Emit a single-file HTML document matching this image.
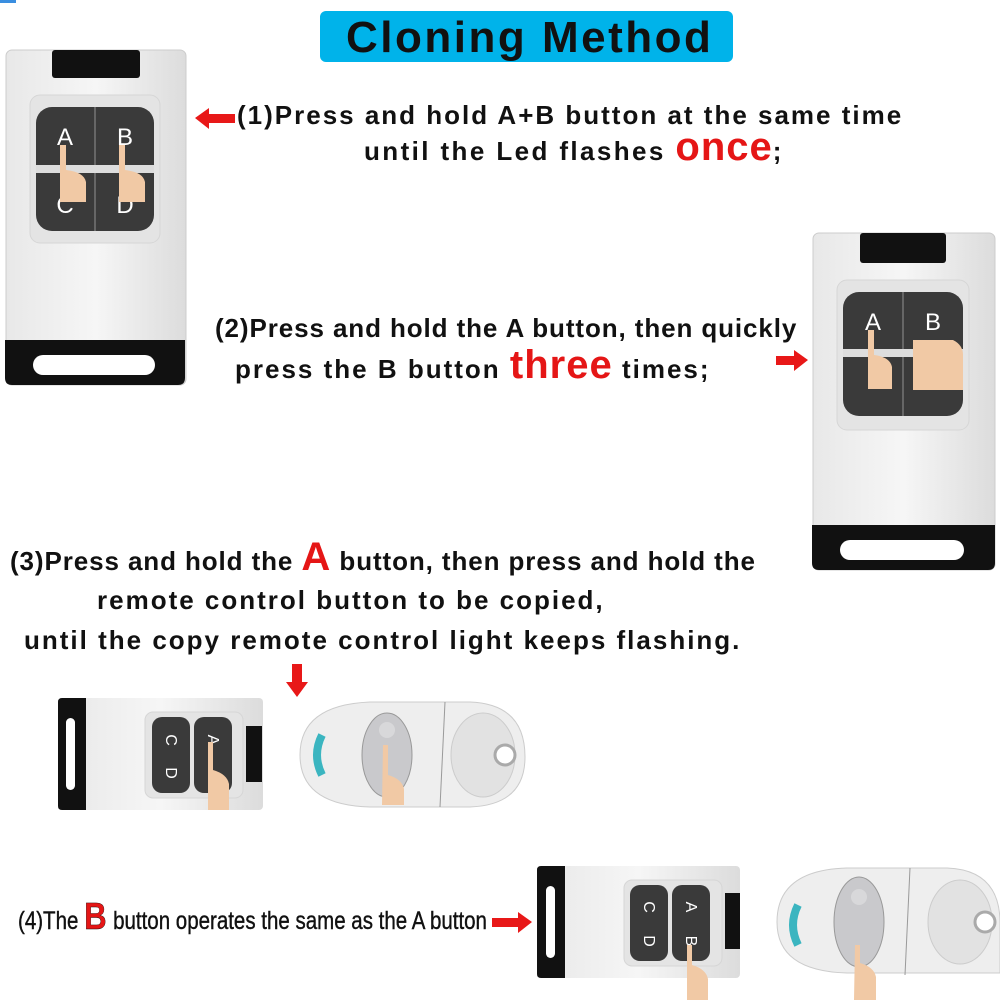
<!DOCTYPE html>
<html><head><meta charset="utf-8"><style>
body{margin:0;width:1000px;height:1000px;background:#fff;position:relative;overflow:hidden;font-family:"Liberation Sans",Arial,sans-serif;}
.t{position:absolute;font-weight:bold;font-size:26px;letter-spacing:2px;color:#111;white-space:nowrap;line-height:1;}
.r{color:#e51616;letter-spacing:1px;}
svg{position:absolute;left:0;top:0}
</style></head><body>
<svg width="1000" height="1000" viewBox="0 0 1000 1000">
<defs>
<linearGradient id="g" x1="0" x2="1"><stop offset="0" stop-color="#e8e8e8"/><stop offset=".5" stop-color="#f6f6f6"/><stop offset="1" stop-color="#dcdcdc"/></linearGradient>
</defs>
<rect x="0" y="0" width="16" height="3" fill="#3a8ee0"/>
<rect x="320" y="11" width="413" height="51" rx="6" fill="#00b3ea"/>
<g>
<rect x="6" y="50" width="180" height="335" rx="6" fill="url(#g)" stroke="#ccc"/>
<rect x="52" y="50" width="88" height="28" rx="3" fill="#111"/>
<rect x="30" y="95" width="130" height="148" rx="10" fill="#e4e4e4" stroke="#d6d6d6"/>
<rect x="36" y="107" width="118" height="124" rx="16" fill="#3a3a3a"/>
<line x1="95" y1="107" x2="95" y2="231" stroke="#666" stroke-width="2"/>
<line x1="36" y1="169" x2="154" y2="169" stroke="#ddd" stroke-width="8"/>
<text x="65" y="145" font-size="24" fill="#fff" text-anchor="middle" font-family="Liberation Sans">A</text>
<text x="125" y="145" font-size="24" fill="#fff" text-anchor="middle" font-family="Liberation Sans">B</text>
<text x="65" y="213" font-size="24" fill="#fff" text-anchor="middle" font-family="Liberation Sans">C</text>
<text x="125" y="213" font-size="24" fill="#fff" text-anchor="middle" font-family="Liberation Sans">D</text>
<path d="M60 145 h6 v25 q18 2 20 12 v20 h-26 z" fill="#f1c9a5"/>
<path d="M119 145 h6 v25 q18 2 20 12 v20 h-26 z" fill="#f1c9a5"/>
<path d="M5 340 h180 v38 q0 7 -7 7 h-166 q-7 0 -7 -7z" fill="#111"/>
<rect x="33" y="355" width="122" height="20" rx="10" fill="#fff"/>
</g>
<g>
<rect x="813" y="233" width="182" height="337" rx="6" fill="url(#g)" stroke="#ccc"/>
<rect x="860" y="233" width="86" height="30" rx="3" fill="#111"/>
<rect x="837" y="280" width="132" height="150" rx="10" fill="#e4e4e4" stroke="#d6d6d6"/>
<rect x="843" y="292" width="120" height="124" rx="16" fill="#3a3a3a"/>
<line x1="903" y1="292" x2="903" y2="416" stroke="#666" stroke-width="2"/>
<line x1="843" y1="353" x2="963" y2="353" stroke="#ddd" stroke-width="8"/>
<text x="873" y="330" font-size="24" fill="#fff" text-anchor="middle">A</text>
<text x="933" y="330" font-size="24" fill="#fff" text-anchor="middle">B</text>
<path d="M868 330 h6 v25 q16 2 18 12 v22 h-24 z" fill="#f1c9a5"/>
<path d="M913 340 h40 q10 5 10 15 v35 h-50 z" fill="#f1c9a5"/>
<path d="M812 525 h183 v38 q0 7 -7 7 h-169 q-7 0 -7 -7z" fill="#111"/>
<rect x="840" y="540" width="124" height="20" rx="10" fill="#fff"/>
</g>
<g>
<rect x="58" y="698" width="205" height="112" rx="4" fill="url(#g)"/>
<path d="M58 702 q0 -4 4 -4 h24 v112 h-24 q-4 0 -4 -4z" fill="#111"/>
<rect x="66" y="718" width="9" height="72" rx="4.5" fill="#fff"/>
<rect x="145" y="712" width="98" height="86" rx="8" fill="#e4e4e4" stroke="#d6d6d6"/>
<rect x="152" y="717" width="38" height="76" rx="10" fill="#3a3a3a"/>
<rect x="194" y="717" width="38" height="76" rx="10" fill="#3a3a3a"/>
<text x="171" y="745" font-size="16" fill="#fff" text-anchor="middle" transform="rotate(90 171 740)">C</text>
<text x="213" y="745" font-size="16" fill="#fff" text-anchor="middle" transform="rotate(90 213 740)">A</text>
<text x="171" y="778" font-size="16" fill="#fff" text-anchor="middle" transform="rotate(90 171 773)">D</text>
<rect x="246" y="726" width="16" height="56" fill="#111"/>
<path d="M208 742 h5 v28 q14 4 16 14 v26 h-21 z" fill="#f1c9a5"/>
</g>
<g>
<path d="M300 755 q0 -50 70 -53 h100 q55 2 55 55 q0 48 -55 50 h-100 q-70 -2 -70 -52z" fill="#eee" stroke="#ccc"/>
<line x1="445" y1="702" x2="440" y2="807" stroke="#999"/>
<ellipse cx="483" cy="755" rx="32" ry="42" fill="#e2e2e2" stroke="#ccc"/>
<circle cx="505" cy="755" r="10" fill="#fff" stroke="#aaa" stroke-width="3"/>
<path d="M322 735 q-10 20 0 40" stroke="#3bb5c0" stroke-width="8" fill="none"/>
<ellipse cx="387" cy="755" rx="25" ry="42" fill="#c9c9cc" stroke="#999"/>
<circle cx="387" cy="730" r="8" fill="#d8d8da"/>
<path d="M383 745 h5 v30 q14 4 16 14 v16 h-22 z" fill="#f1c9a5"/>
</g>
<g>
<rect x="537" y="866" width="203" height="112" rx="4" fill="url(#g)"/>
<path d="M537 870 q0 -4 4 -4 h24 v112 h-24 q-4 0 -4 -4z" fill="#111"/>
<rect x="546" y="886" width="9" height="72" rx="4.5" fill="#fff"/>
<rect x="624" y="880" width="98" height="86" rx="8" fill="#e4e4e4" stroke="#d6d6d6"/>
<rect x="630" y="885" width="38" height="76" rx="10" fill="#3a3a3a"/>
<rect x="672" y="885" width="38" height="76" rx="10" fill="#3a3a3a"/>
<text x="649" y="912" font-size="16" fill="#fff" text-anchor="middle" transform="rotate(90 649 907)">C</text>
<text x="691" y="912" font-size="16" fill="#fff" text-anchor="middle" transform="rotate(90 691 907)">A</text>
<text x="649" y="946" font-size="16" fill="#fff" text-anchor="middle" transform="rotate(90 649 941)">D</text>
<text x="691" y="946" font-size="16" fill="#fff" text-anchor="middle" transform="rotate(90 691 941)">B</text>
<rect x="725" y="893" width="15" height="56" fill="#111"/>
<path d="M687 945 h5 v20 q14 4 16 14 v21 h-21 z" fill="#f1c9a5"/>
</g>
<g>
<path d="M777 922 q0 -52 70 -54 h100 q53 2 53 55 v50 h-153 q-70 -2 -70 -51z" fill="#eee" stroke="#ccc"/>
<line x1="910" y1="868" x2="905" y2="975" stroke="#999"/>
<ellipse cx="960" cy="922" rx="32" ry="42" fill="#e2e2e2" stroke="#ccc"/>
<circle cx="985" cy="922" r="10" fill="#fff" stroke="#aaa" stroke-width="3"/>
<path d="M798 905 q-10 20 0 40" stroke="#3bb5c0" stroke-width="8" fill="none"/>
<ellipse cx="859" cy="922" rx="25" ry="45" fill="#c9c9cc" stroke="#999"/>
<circle cx="859" cy="897" r="8" fill="#d8d8da"/>
<path d="M855 945 h5 v18 q14 4 16 14 v23 h-22 z" fill="#f1c9a5"/>
</g>
<path d="M195 118 l14 -10 v6 h26 v9 h-26 v6z" fill="#e81818"/>
<path d="M808 360 l-14 -10 v6 h-18 v9 h18 v6z" fill="#e81818"/>
<path d="M297 697 l-11 -15 h6 v-18 h10 v18 h6z" fill="#e81818"/>
<path d="M532 922 l-14 -10 v6 h-26 v9 h26 v6z" fill="#e81818"/>
</svg>
<div class="t" style="left:346px;top:16px;font-size:44px;letter-spacing:2.5px;">Cloning Method</div>
<div class="t" style="left:237px;top:102px;">(1)Press and hold A+B button at the same time</div>
<div class="t" style="left:364px;top:127px;letter-spacing:2.4px;">until the Led flashes <span class="r" style="font-size:40px;">once</span>;</div>
<div class="t" style="left:215px;top:315px;letter-spacing:0.9px;">(2)Press and hold the A button, then quickly</div>
<div class="t" style="left:235px;top:345px;">press the B button <span class="r" style="font-size:40px;">three</span> times;</div>
<div class="t" style="left:10px;top:537px;letter-spacing:0.9px;">(3)Press and hold the <span class="r" style="font-size:40px;">A</span> button, then press and hold the</div>
<div class="t" style="left:97px;top:587px;">remote control button to be copied,</div>
<div class="t" style="left:24px;top:627px;">until the copy remote control light keeps flashing.</div>
<div class="t" style="left:18px;top:898px;font-weight:normal;font-size:25px;letter-spacing:0;transform:scaleX(0.82);transform-origin:0 0;-webkit-text-stroke:0.4px #111;">(4)The <span class="r" style="font-size:38px;font-weight:bold;">B</span> button operates the same as the A button</div>
</body></html>
